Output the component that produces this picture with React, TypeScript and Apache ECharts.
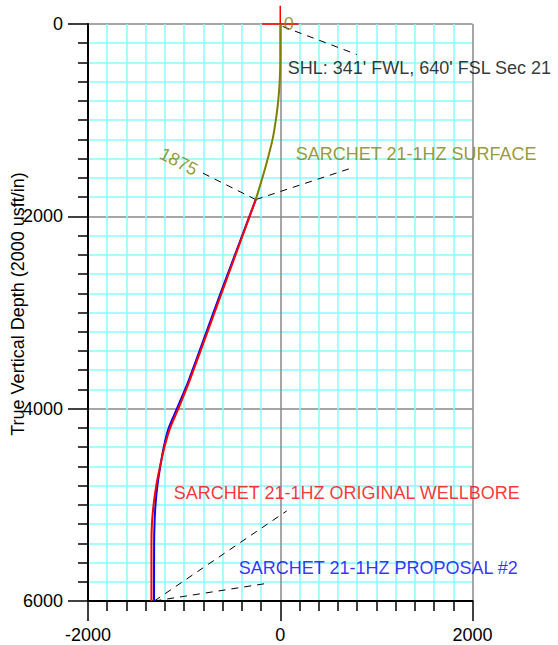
import React, { useEffect, useRef } from "react";
import * as echarts from "echarts";

// Surface section (olive): [vertical section x, TVD]
const surfaceX = [0, 0, -6, -21, -46, -80, -130, -186, -255];
const surfaceTVD = [0, 380, 600, 800, 1000, 1200, 1400, 1600, 1826];

// Original wellbore (red)
const originalX = [-255, -600, -940, -1060, -1145, -1205, -1250, -1290, -1318, -1335, -1340, -1340];
const originalTVD = [1826, 2770, 3700, 4000, 4200, 4400, 4600, 4800, 5000, 5200, 5400, 6000];

// Proposal #2 (blue)
const proposalX = [-255, -610, -950, -1075, -1160, -1212, -1248, -1278, -1298, -1308, -1312, -1313];
const proposalTVD = [1826, 2770, 3700, 4000, 4200, 4400, 4600, 4800, 5000, 5200, 5400, 6000];

// Axis settings / tick labels
const xTicks = [-2000, 0, 2000];
const yTicks = [0, 2000, 4000, 6000];

// Annotation texts and anchor points (data coords)
const labelTexts = [
  "0",
  "SHL: 341' FWL, 640' FSL Sec 21",
  "SARCHET 21-1HZ SURFACE",
  "SARCHET 21-1HZ ORIGINAL WELLBORE",
  "SARCHET 21-1HZ PROPOSAL #2",
];
const labelX = [36, 78, 161, -1108, -432];
const labelY = [0, 453, 1348, 4875, 5655];
const labelColors = ["#808000", "#000000", "#808000", "#ff0000", "#0000ff"];

const mdText = "1875";
const mdPoint = [-1056, 1431];

// Leader lines (dashed): pairs of points
const leaders = [
  [[26, 26], [796, 317]],
  [[-255, 1826], [723, 1504]],
  [[-255, 1826], [-816, 1545]],
  [[-1310, 6000], [68, 5063]],
  [[-1310, 6000], [-109, 5812]],
];

// SHL marker cross at origin
const markerH = [[-190, 0], [190, 0]];
const markerV = [[0, 0], [0, -190]];

const FONT = "'Liberation Sans', Arial, sans-serif";

function zip(xs: number[], ys: number[]) {
  return xs.map((x, i) => [x, ys[i]]);
}

export default function App() {
  const ref = useRef<HTMLDivElement>(null);
  useEffect(() => {
    document.body.style.margin = "0";
    if (!ref.current) return;
    const chart = echarts.init(ref.current, undefined, { renderer: "svg" });

    const axisCommon = {
      type: "value" as const,
      interval: 2000,
      axisLine: { show: true, onZero: false, lineStyle: { color: "#000", width: 2 } },
      axisTick: { show: true, length: 20, lineStyle: { color: "#000", width: 1.5 } },
      minorTick: { show: true, splitNumber: 10, length: 10, lineStyle: { color: "#000", width: 1.5 } },
      splitLine: { show: true, lineStyle: { color: "#888", width: 1.5 } },
      minorSplitLine: { show: true, lineStyle: { color: "#88ffff", width: 1.5 } },
      axisLabel: {
        color: "#000",
        fontSize: 18,
        fontFamily: FONT,
        margin: 25,
        formatter: (v: number) => String(v),
      },
    };

    const leaderSeries = leaders.map((seg) => ({
      type: "line",
      data: seg,
      symbol: "none",
      silent: true,
      clip: false,
      z: 5,
      lineStyle: { color: "#000", width: 1, type: [7, 6] },
    }));

    const option: any = {
      animation: false,
      grid: { left: 88, top: 24, right: 85.5, bottom: 44, containLabel: false },
      xAxis: {
        ...axisCommon,
        min: xTicks[0],
        max: xTicks[xTicks.length - 1],
        position: "bottom",
      },
      yAxis: {
        ...axisCommon,
        min: yTicks[0],
        max: yTicks[yTicks.length - 1],
        inverse: true,
        position: "left",
      },
      graphic: [
        {
          type: "text",
          x: 18,
          y: 304,
          rotation: Math.PI / 2,
          style: {
            text: "True Vertical Depth (2000 usft/in)",
            font: `18px ${FONT}`,
            fill: "#000",
            textAlign: "center",
            textVerticalAlign: "middle",
          },
        },
      ],
      series: [
        ...leaderSeries,
        {
          type: "line",
          data: markerH,
          symbol: "none",
          clip: false,
          silent: true,
          z: 6,
          lineStyle: { color: "#ff0000", width: 1.5 },
        },
        {
          type: "line",
          data: markerV,
          symbol: "none",
          clip: false,
          silent: true,
          z: 6,
          lineStyle: { color: "#ff0000", width: 1.5 },
        },
        {
          type: "line",
          name: "Proposal #2",
          data: zip(proposalX, proposalTVD),
          symbol: "none",
          smooth: 0.3,
          z: 7,
          lineStyle: { color: "#0000ff", width: 2 },
        },
        {
          type: "line",
          name: "Original Wellbore",
          data: zip(originalX, originalTVD),
          symbol: "none",
          smooth: 0.3,
          z: 8,
          lineStyle: { color: "#ff0000", width: 2 },
        },
        {
          type: "line",
          name: "Surface",
          data: zip(surfaceX, surfaceTVD),
          symbol: "none",
          smooth: 0.3,
          z: 9,
          lineStyle: { color: "#808000", width: 2 },
        },
        {
          type: "scatter",
          symbolSize: 0,
          silent: true,
          clip: false,
          z: 10,
          data: labelTexts.map((t, i) => ({
            value: [labelX[i], labelY[i]],
            label: {
              show: true,
              formatter: t,
              position: "right",
              distance: 0,
              color: labelColors[i],
              fontSize: 18,
              fontFamily: FONT,
            },
          })),
        },
        {
          type: "scatter",
          symbolSize: 0,
          silent: true,
          clip: false,
          z: 10,
          data: [
            {
              value: mdPoint,
              label: {
                show: true,
                formatter: mdText,
                position: "inside",
                rotate: -27.5,
                color: "#808000",
                fontSize: 18,
                fontFamily: FONT,
              },
            },
          ],
        },
      ],
    };
    chart.setOption(option);
    return () => chart.dispose();
  }, []);
  return <div ref={ref} style={{ width: 558, height: 645 }} />;
}
